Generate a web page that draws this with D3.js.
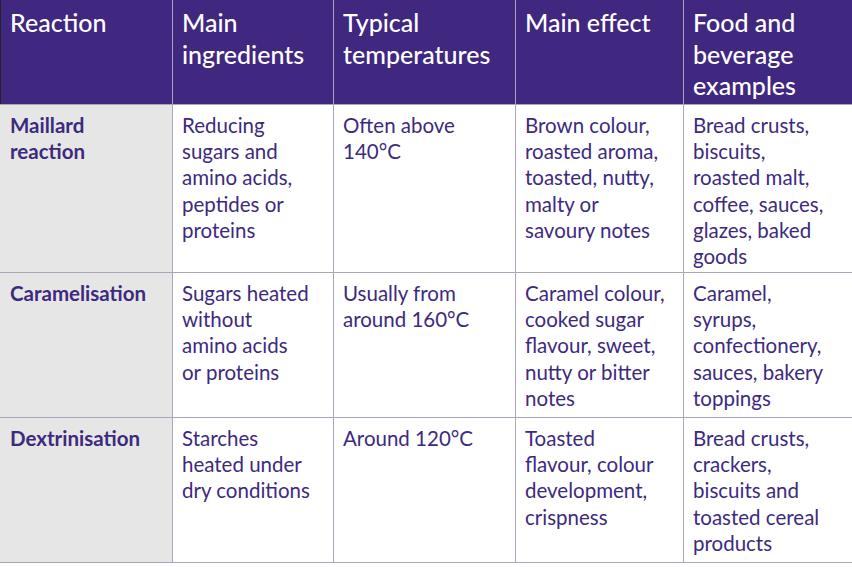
<!DOCTYPE html>
<html><head><meta charset="utf-8">
<script src="https://cdn.jsdelivr.net/npm/d3@7"></script>
<style>body{margin:0;background:#fff}</style></head>
<body><svg id="c" width="852" height="567"></svg>
<script>
const headers = [["Reaction"],["Main","ingredients"],["Typical","temperatures"],["Main effect"],["Food and","beverage","examples"]];
const reactions = [["Maillard","reaction"],["Caramelisation"],["Dextrinisation"]];
const ingredients = [["Reducing","sugars and","amino acids,","peptides or","proteins"],["Sugars heated","without","amino acids","or proteins"],["Starches","heated under","dry conditions"]];
const temperatures = [["Often above","140°C"],["Usually from","around 160°C"],["Around 120°C"]];
const effects = [["Brown colour,","roasted aroma,","toasted, nutty,","malty or","savoury notes"],["Caramel colour,","cooked sugar","flavour, sweet,","nutty or bitter","notes"],["Toasted","flavour, colour","development,","crispness"]];
const examples = [["Bread crusts,","biscuits,","roasted malt,","coffee, sauces,","glazes, baked","goods"],["Caramel,","syrups,","confectionery,","sauces, bakery","toppings"],["Bread crusts,","crackers,","biscuits and","toasted cereal","products"]];

const colEdges=[0,172,333,515,683,852];
const rowEdges=[0,104,272,417,562];
const purple="#40277f", text="#3d2a7f", line="#a9a6b8";
const svg=d3.select("#c");
const x=i=>colEdges[i], y=i=>rowEdges[i];
// header
svg.append("rect").attr("x",0).attr("y",0).attr("width",852).attr("height",y(1)).attr("fill",purple);
svg.append("rect").attr("x",0).attr("y",y(1)).attr("width",x(1)).attr("height",y(4)-y(1)).attr("fill","#e6e6e6");
// grid lines
svg.selectAll(".v").data(colEdges.slice(1,5)).join("line").attr("x1",d=>d+0.5).attr("x2",d=>d+0.5).attr("y1",0).attr("y2",y(4)).attr("stroke",line).attr("stroke-width",1);
svg.selectAll(".h").data(rowEdges.slice(1)).join("line").attr("x1",0).attr("x2",852).attr("y1",d=>d+0.5).attr("y2",d=>d+0.5).attr("stroke",line).attr("stroke-width",1.2);
svg.append("line").attr("x1",0.5).attr("x2",0.5).attr("y1",0).attr("y2",y(1)).attr("stroke","#222");
const font="Lato, 'Open Sans', sans-serif";
function cell(lines,ci,ri,opts){
  const t=svg.append("text").attr("font-family",font).attr("font-size",opts.size).attr("font-weight",opts.weight).attr("fill",opts.fill);
  lines.forEach((l,k)=>t.append("tspan").attr("x",x(ci)+10).attr("y",y(ri)+opts.base+k*opts.lh).text(l));
}
headers.forEach((h,i)=>cell(h,i,0,{size:25,weight:500,fill:"#fff",base:32,lh:31.5}));
const cols=[reactions,ingredients,temperatures,effects,examples];
cols.forEach((col,ci)=>col.forEach((lines,ri)=>cell(lines,ci,ri+1,{size:20.5,weight:ci===0?700:400,fill:text,base:29,lh:26.2})));
</script></body></html>
